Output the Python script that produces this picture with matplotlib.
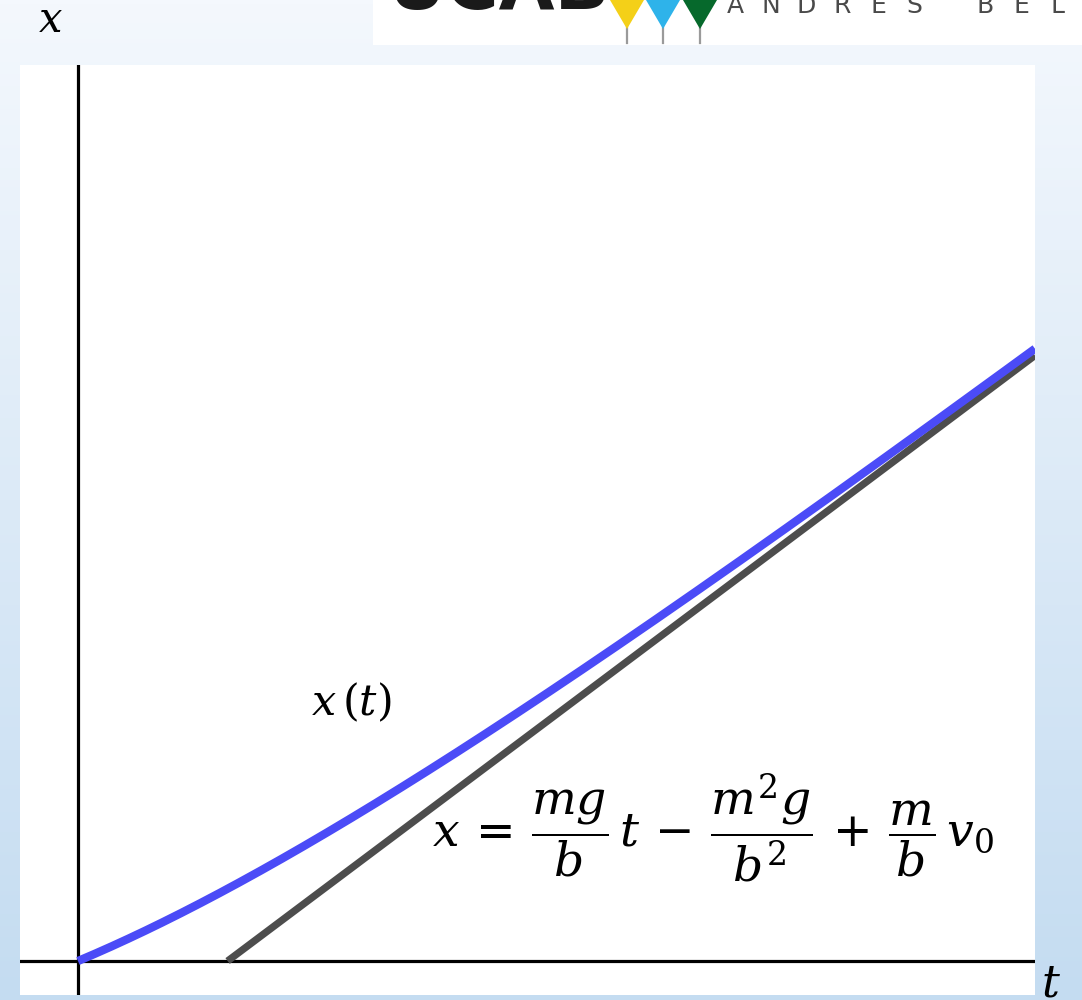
import numpy as np
import matplotlib
matplotlib.use("Agg")
import matplotlib.pyplot as plt
from matplotlib.patches import Rectangle, Polygon
from matplotlib.lines import Line2D

plt.rcParams["mathtext.fontset"] = "dejavuserif"

# Falling body with linear drag (arbitrary units)
m = 1.0      # mass
b = 1.0      # drag coefficient
g = 1.0      # gravity
v0 = 0.56    # initial velocity

t_max = 2.8147
t = np.linspace(0.0, t_max, 400)
tau = m / b
v_term = m * g / b
x_t = v_term * t + tau * (v0 - v_term) * (1.0 - np.exp(-t / tau))

# Asymptote: x = (mg/b) t - m^2 g / b^2 + (m/b) v0
t0 = (m**2 * g / b**2 - m / b * v0) / (m * g / b)
t_line = np.linspace(t0, t_max, 2)
x_line = (m * g / b) * t_line - m**2 * g / b**2 + (m / b) * v0

W, H = 1082, 1000
fig = plt.figure(figsize=(W / 100, H / 100), dpi=100)


def px(x, y):
    """Pixel position (from top-left) to figure fraction."""
    return (x / W, 1.0 - y / H)


# Soft blue gradient backdrop
bg = fig.add_axes([0, 0, 1, 1], zorder=0)
top = np.array([244, 248, 253]) / 255.0
bottom = np.array([196, 220, 241]) / 255.0
grad = np.linspace(0, 1, 256)[:, None, None]
img = top * (1 - grad) + bottom * grad
img = np.repeat(img, 2, axis=1)
bg.imshow(img, aspect="auto", extent=[0, 1, 0, 1], origin="upper")
bg.set_axis_off()

# Header banner
fig.patches.append(Rectangle(px(373, 45), (W - 373) / W, 45 / H,
                             transform=fig.transFigure, facecolor="white",
                             edgecolor="none", zorder=1))
fig.text(*px(387, 9), "UCAB", fontsize=52, fontweight="bold", color="#1a1a1a",
         ha="left", va="baseline", zorder=2)
for cx, col in [(627, "#f4d018"), (663, "#2eb3ea"), (700, "#06692c")]:
    fig.patches.append(Polygon([px(cx - 17, 0), px(cx + 17, 0), px(cx, 29)],
                               closed=True, transform=fig.transFigure,
                               facecolor=col, edgecolor="none", zorder=3))
    fig.lines.append(Line2D([cx / W, cx / W], [1 - 26 / H, 1 - 43 / H],
                            transform=fig.transFigure, color="#9a9a9a",
                            lw=1.6, zorder=3))
letters = "ANDRES BELLO"
for i, ch in enumerate(letters):
    fig.text(*px(735 + i * 35.8, 13), ch, fontsize=18, color="#4a4a4a",
             family="DejaVu Sans",
             ha="center", va="baseline", zorder=2)

# Plot panel
ax = fig.add_axes([20 / W, 5 / H, 1015 / W, 930 / H], zorder=4)
ax.set_facecolor("white")
ax.set_xlim(-0.1706, t_max)
ax.set_ylim(-0.1333, 3.5137)
for s in ax.spines.values():
    s.set_visible(False)
ax.set_xticks([])
ax.set_yticks([])

ax.axhline(0, color="black", lw=2.3, zorder=2)
ax.axvline(0, color="black", lw=2.3, zorder=2)
ax.plot(t_line, x_line, color="#4d4d4d", lw=5.2, solid_capstyle="butt", zorder=3)
ax.plot(t, x_t, color="#4b4bf7", lw=6.0, solid_capstyle="butt", zorder=4)

# Labels
fig.text(*px(50, 20), r"$x$", fontsize=30, ha="center", va="center", zorder=6)
fig.text(*px(1051, 984), r"$t$", fontsize=32, ha="center", va="center", zorder=6)
fig.text(*px(351, 703), r"$x\,(t)$", fontsize=31, ha="center", va="center", zorder=6)
fig.text(*px(713, 828),
         r"$x\,=\,\dfrac{mg}{b}\,t\,-\,\dfrac{m^2g}{b^2}\,+\,\dfrac{m}{b}\,v_0$",
         fontsize=34, ha="center", va="center", zorder=6)

fig.savefig("out.png", dpi=100)
